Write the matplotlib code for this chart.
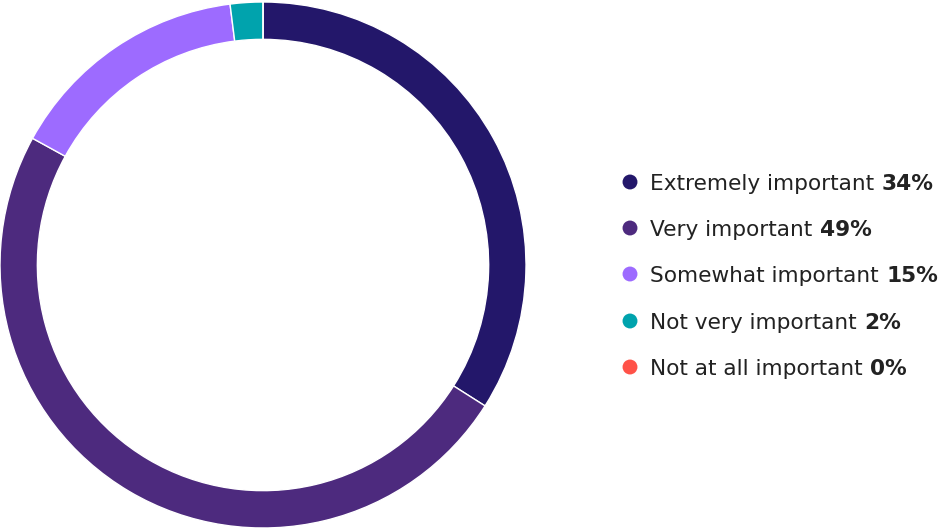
import matplotlib.pyplot as plt

labels = ["Extremely important", "Very important", "Somewhat important",
          "Not very important", "Not at all important"]
shares = [34, 49, 15, 2, 0]
colors = ["#23176a", "#4d2a7e", "#9d6bff", "#00a3ad", "#ff5248"]

W, H = 943, 529
fig = plt.figure(figsize=(W / 100, H / 100), dpi=100)
plt.rcParams["font.family"] = ["DejaVu Sans"]

# donut
ax = fig.add_axes([0, 1 / H, 526 / W, 526 / H])
ax.pie(shares, colors=colors, startangle=90, counterclock=False, radius=1,
       wedgeprops=dict(width=0.142, edgecolor="white", linewidth=1))
ax.set_xlim(-1, 1)
ax.set_ylim(-1, 1)
ax.set_aspect("equal")

# legend drawn in pixel coordinates
lax = fig.add_axes([0, 0, 1, 1])
lax.set_xlim(0, W)
lax.set_ylim(H, 0)
lax.axis("off")
row_y = [182, 228, 274, 321, 367]
for y, lab, val, c in zip(row_y, labels, shares, colors):
    lax.scatter([630], [y], s=115, color=c, edgecolors="none")
    t = lax.text(650, y, lab, fontsize=15.6, color="#222222",
                 va="center_baseline")
    lax.annotate(f"{val}%", xy=(1, 0), xycoords=t, xytext=(5.5, 0),
                 textcoords="offset points", va="bottom", ha="left",
                 fontsize=15.6, fontweight="bold", color="#222222")

fig.savefig("out.png", dpi=100)
